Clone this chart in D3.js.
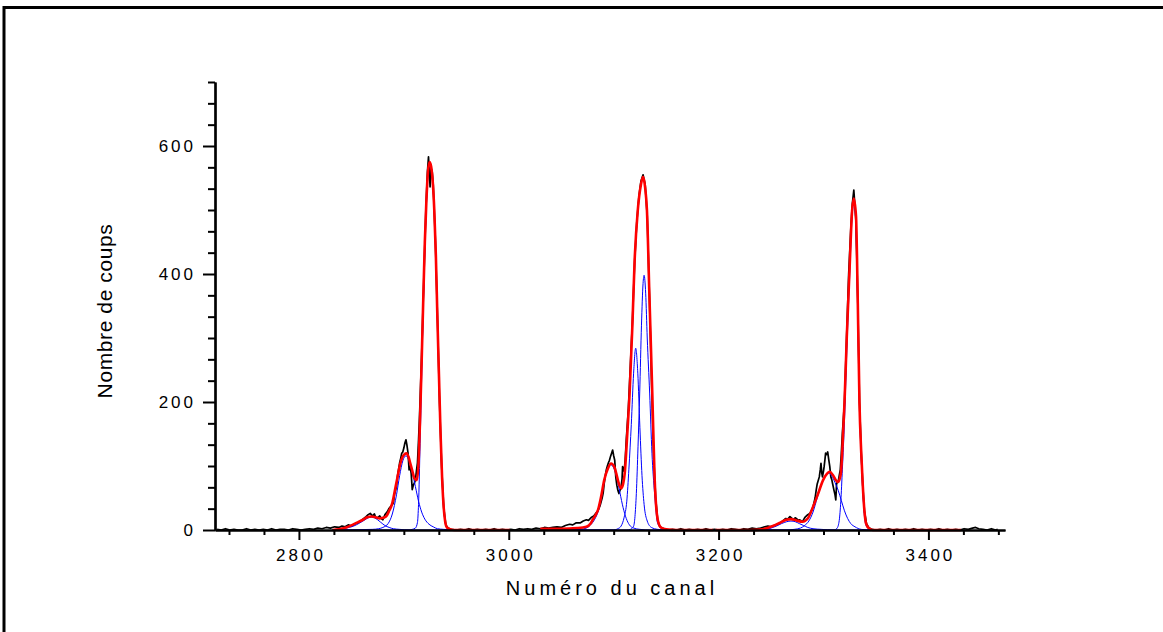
<!DOCTYPE html>
<html>
<head>
<meta charset="utf-8">
<script src="https://cdn.jsdelivr.net/npm/d3@7"></script>
<style>
body { margin: 0; background: #fff; }
svg text { font-family: "Liberation Sans", Arial, sans-serif; fill: #000; }
</style>
</head>
<body>
<svg id="chart" width="1163" height="632"></svg>
<script>
// axis ticks and titles
var xTicks = [2800, 3000, 3200, 3400];
var yTicks = [0, 200, 400, 600];
var xTitle = "Numéro du canal";
var yTitle = "Nombre de coups";

// measured spectrum [channel, counts]
var spectrum = [[2722,1],[2726,0],[2730,2],[2734,0],[2738,1],[2742,0],[2746,0],[2750,2],[2754,0],[2758,1],[2762,0],[2766,1],[2770,0],[2774,2],[2778,0],[2782,1],[2786,1],[2790,0],[2794,2],[2798,1],[2802,0],[2806,1],[2810,2],[2814,1],[2818,3],[2822,2],[2826,4],[2830,3],[2834,5],[2838,4],[2841,6],[2844,5],[2847,8],[2850,6],[2853,9],[2856,11],[2858,13],[2861,17],[2864,21],[2866,24],[2868,26],[2870,22],[2872,25],[2873,20],[2875,19],[2877,22],[2879,17],[2880,16],[2882,24],[2884,28],[2886,34],[2888,38],[2890,42],[2891,55],[2893,68],[2894,85],[2896,105],[2897,112],[2898,120],[2899,122],[2900,128],[2901,136],[2902,141],[2903,132],[2904,120],[2905,94],[2906,100],[2907,88],[2908,63],[2909,70],[2910,73],[2911,78],[2912,92],[2913,105],[2914,140],[2915,180],[2917,275],[2919,390],[2921,500],[2922.5,560],[2923.5,583],[2924.3,560],[2925,536],[2926,565],[2927,560],[2928,540],[2930,455],[2932,335],[2934,200],[2936,100],[2938,35],[2940,8],[2942,3],[2945,1],[2950,0],[2954,1],[2958,0],[2962,2],[2966,0],[2970,1],[2974,0],[2978,1],[2982,0],[2986,2],[2990,0],[2994,1],[2998,0],[3002,1],[3006,0],[3010,2],[3014,1],[3018,2],[3022,1],[3026,3],[3030,2],[3034,4],[3038,3],[3042,4],[3046,5],[3050,4],[3054,7],[3058,9],[3061,8],[3064,11],[3068,11],[3071,14],[3074,16],[3076,15],[3079,20],[3081,22],[3083,26],[3085,30],[3087,38],[3089,50],[3090,58],[3091,73],[3092,85],[3093,94],[3094,100],[3095,105],[3096,109],[3097,115],[3098,120],[3099,125],[3100,116],[3101,109],[3102,83],[3103,70],[3104,62],[3105,57],[3106,62],[3107,66],[3108,80],[3108.5,99],[3109,96],[3110,92],[3111,110],[3112,140],[3114,190],[3116,260],[3118,330],[3120,420],[3122,480],[3124,520],[3126,545],[3128,555],[3130,540],[3132,490],[3134,370],[3136,240],[3138,120],[3140,50],[3142,15],[3144,5],[3148,2],[3152,0],[3156,1],[3160,0],[3164,2],[3168,0],[3172,1],[3176,0],[3180,1],[3184,0],[3188,2],[3192,0],[3196,1],[3200,0],[3204,1],[3208,0],[3212,2],[3216,1],[3220,0],[3224,2],[3228,1],[3232,3],[3236,2],[3240,3],[3244,5],[3247,6],[3250,5],[3253,7],[3256,9],[3258,10],[3261,14],[3264,18],[3266,17],[3268,21],[3270,18],[3271,16],[3273,19],[3274,18],[3276,15],[3277,16],[3279,14],[3280,13],[3282,19],[3283,21],[3285,24],[3287,26],[3289,32],[3290,36],[3292,50],[3293,62],[3294,72],[3296,83],[3297,95],[3297.6,104],[3298.3,90],[3299,83],[3300,92],[3300.6,99],[3301.5,112],[3302,120],[3303,118],[3304,122],[3305,110],[3306,99],[3307,83],[3308,78],[3308.6,73],[3310,62],[3311,55],[3311.7,47],[3312.5,73],[3314,75],[3315,85],[3316,94],[3317,120],[3318,151],[3320,200],[3322,300],[3324,400],[3326,470],[3327.5,510],[3328.9,531],[3330,505],[3331,480],[3332.7,355],[3334.3,200],[3336,120],[3337.5,68],[3339,30],[3341,10],[3343,4],[3346,1],[3350,0],[3354,1],[3358,0],[3362,2],[3366,0],[3370,1],[3374,0],[3378,1],[3382,0],[3386,2],[3390,0],[3394,1],[3398,0],[3402,1],[3406,0],[3410,2],[3414,0],[3418,1],[3422,0],[3426,1],[3430,0],[3434,2],[3438,1],[3442,3],[3445,4],[3448,2],[3452,1],[3456,0],[3460,2],[3464,0],[3466,1]];

// total fit, one segment per group of lines
var fit1 = [[2832,0],[2838,1],[2845,4],[2851,8],[2856,12],[2861,16],[2865,20],[2869,21],[2873,20],[2877,18],[2880,19],[2883,21],[2886,30],[2889,42],[2891.5,62],[2894,83],[2896.5,103],[2899,115],[2902.5,120],[2904.5,114],[2906,105],[2908,93],[2910,81],[2912.5,78],[2914,105],[2915.5,175],[2917,265],[2918.5,360],[2920,450],[2921.5,515],[2923,560],[2924.5,575],[2926,568],[2927.5,545],[2929,500],[2930.5,430],[2932,330],[2933.5,240],[2935,150],[2936.5,80],[2938,35],[2939.5,12],[2941,4],[2944,1],[2948,0],[3001,0]];
var fit2 = [[3030,2],[3050,2],[3065,3],[3074,5],[3078,10],[3080,16],[3083,24],[3085,31],[3088,52],[3091,78],[3094.5,96],[3097.5,104],[3100.5,99],[3102.5,88],[3104,78],[3107,65],[3109,72],[3110.5,88],[3113,151],[3115.2,214],[3117.8,318],[3120,422],[3123,500],[3126,540],[3128,552],[3130,535],[3131.7,500],[3134,370],[3136.8,214],[3139,83],[3142,16],[3145,4],[3150,1],[3160,0],[3195,0]];
var fit3 = [[3197,0],[3230,0],[3242,1],[3248,4],[3253,7],[3258,11],[3264.5,16],[3269,17],[3274,15],[3280,13],[3285,18],[3290,36],[3294.9,57],[3299.6,78],[3303.4,88],[3305.7,91],[3308.9,86],[3311.7,78],[3313.9,75],[3316.5,88],[3318.7,151],[3320,198],[3322.2,302],[3324.8,406],[3327.3,500],[3328.9,518],[3331,490],[3332.7,354],[3334.3,198],[3336,120],[3337.5,68],[3339,30],[3340.6,10],[3343,3],[3347,0],[3431,0]];

// single peak components
var peakA = [[2832,0],[2838,1],[2845,3],[2852,6],[2858,11],[2863,16],[2866,19],[2869,20],[2872,19],[2875,16],[2878,12],[2882,7],[2886,4],[2890,2],[2896,1],[2905,0],[2948,0]];
var peakB = [[2832,0],[2870,1],[2876,2],[2880,4],[2885,10],[2889,25],[2893,55],[2896,85],[2899,108],[2902,116],[2905,108],[2908,90],[2911,68],[2914,45],[2917,28],[2920,17],[2924,9],[2928,5],[2932,2],[2938,1],[2948,0]];
var peakC = [[2832,0],[2905,0],[2908,1],[2911,3],[2913,12],[2914,40],[2915.5,135],[2917,240],[2918.5,345],[2920,440],[2921.5,508],[2923,555],[2924.5,570],[2926,565],[2927.5,543],[2929,498],[2930.5,428],[2932,328],[2933.5,238],[2935,148],[2936.5,78],[2938,33],[2939.5,11],[2941,3],[2944,0],[2948,0]];
var peakD = [[3030,0],[3068,1],[3074,3],[3078,8],[3082,17],[3085,28],[3088,48],[3091,75],[3094,94],[3097,102],[3100,97],[3103,82],[3106,58],[3109,35],[3112,18],[3115,8],[3119,3],[3125,1],[3135,0],[3150,0]];
var peakE = [[3030,0],[3100,0],[3104,2],[3107,6],[3110,20],[3112.5,45],[3114.5,95],[3116.8,165],[3119,245],[3121,284],[3123,245],[3125,160],[3127,85],[3129,40],[3132,14],[3136,4],[3142,1],[3150,0]];
var peakF = [[3030,0],[3112,0],[3116,1],[3119,6],[3121.6,57],[3123.2,130],[3124.8,214],[3126.5,320],[3128,385],[3129,398],[3130.5,370],[3132,300],[3134.3,214],[3136.5,120],[3139,57],[3142,10],[3146,2],[3150,0]];
var peakG = [[3197,0],[3240,0],[3246,1],[3250,3],[3255,6],[3260,10],[3265,13],[3269,14],[3273,13],[3277,10],[3281,7],[3285,4],[3290,2],[3298,1],[3310,0],[3350,0]];
var peakH = [[3197,0],[3265,0],[3272,1],[3278,3],[3282,7],[3286,14],[3290,28],[3294,50],[3298,71],[3302,85],[3305,89],[3308,84],[3311,74],[3314,62],[3317,46],[3320,30],[3323,18],[3326,10],[3330,5],[3336,1],[3345,0],[3350,0]];
var peakI = [[3197,0],[3310,0],[3313,3],[3315,15],[3316.5,45],[3318,95],[3320,170],[3322.2,280],[3324.8,392],[3327.3,490],[3328.9,512],[3330.5,490],[3332.2,380],[3334,215],[3336,110],[3337.5,58],[3339,22],[3340.6,7],[3344,1],[3350,0]];

var svg = d3.select("#chart");

var xs = d3.scaleLinear().domain([2720, 3473]).range([215, 1005]);
var ys = d3.scaleLinear().domain([0, 700]).range([530, 82]);

// frame of the page (top and left edges only)
svg.append("path")
	.attr("d", "M4,632 V7.5 H1163")
	.attr("fill", "none")
	.attr("stroke", "black")
	.attr("stroke-width", 3);

var line = d3.line()
	.x(function(d) { return xs(d[0]); })
	.y(function(d) { return ys(d[1]); });
var smooth = d3.line()
	.curve(d3.curveMonotoneX)
	.x(function(d) { return xs(d[0]); })
	.y(function(d) { return ys(d[1]); });

// black data line
svg.append("path")
	.datum(spectrum)
	.attr("fill", "none")
	.attr("stroke", "black")
	.attr("stroke-width", 1.7)
	.attr("stroke-linejoin", "round")
	.attr("d", line);

// blue components
[peakA, peakB, peakC, peakD, peakE, peakF, peakG, peakH, peakI].forEach(function(p) {
	svg.append("path")
		.datum(p)
		.attr("fill", "none")
		.attr("stroke", "#0000ff")
		.attr("stroke-width", 1)
		.attr("d", smooth);
});

// red fits
[fit1, fit2, fit3].forEach(function(f) {
	svg.append("path")
		.datum(f)
		.attr("fill", "none")
		.attr("stroke", "#ff0000")
		.attr("stroke-width", 2.6)
		.attr("stroke-linejoin", "round")
		.attr("d", smooth);
});

// minor ticks every 200/6
var xMinor = d3.range(2733.3333, 3470, 200 / 6).filter(function(v) {
	return xTicks.every(function(t) { return Math.abs(t - v) > 1; });
});
var yMinor = d3.range(200 / 6, 701, 200 / 6).filter(function(v) {
	return yTicks.every(function(t) { return Math.abs(t - v) > 1; });
});

// x axis
svg.append("g")
	.attr("transform", "translate(0,530)")
	.call(d3.axisBottom(xs).tickValues(xMinor).tickSize(5).tickSizeOuter(0).tickFormat(""));
var gx = svg.append("g")
	.attr("transform", "translate(0,530)")
	.call(d3.axisBottom(xs).tickValues(xTicks).tickSize(10).tickSizeOuter(0).tickPadding(9).tickFormat(d3.format("d")));
gx.selectAll("text")
	.attr("font-size", "17px")
	.attr("dx", "1.5px")
	.style("letter-spacing", "3px");

// y axis
svg.append("g")
	.attr("transform", "translate(215,0)")
	.call(d3.axisLeft(ys).tickValues(yMinor).tickSize(7).tickSizeOuter(0).tickFormat(""));
var gy = svg.append("g")
	.attr("transform", "translate(215,0)")
	.call(d3.axisLeft(ys).tickValues(yTicks).tickSize(12).tickSizeOuter(0).tickPadding(7));
gy.selectAll("text")
	.attr("font-size", "17px")
	.style("letter-spacing", "3px");

svg.selectAll(".domain, .tick line")
	.attr("stroke", "black")
	.attr("stroke-width", 2);
svg.selectAll(".domain").attr("stroke-width", 2.2);

// axis titles
svg.append("text")
	.attr("x", 612)
	.attr("y", 595)
	.attr("font-size", "20px")
	.style("letter-spacing", "4px")
	.style("text-anchor", "middle")
	.text(xTitle);

svg.append("text")
	.attr("transform", "translate(112,311) rotate(-90)")
	.attr("font-size", "21px")
	.style("letter-spacing", "0.6px")
	.style("text-anchor", "middle")
	.text(yTitle);
</script>
</body>
</html>
